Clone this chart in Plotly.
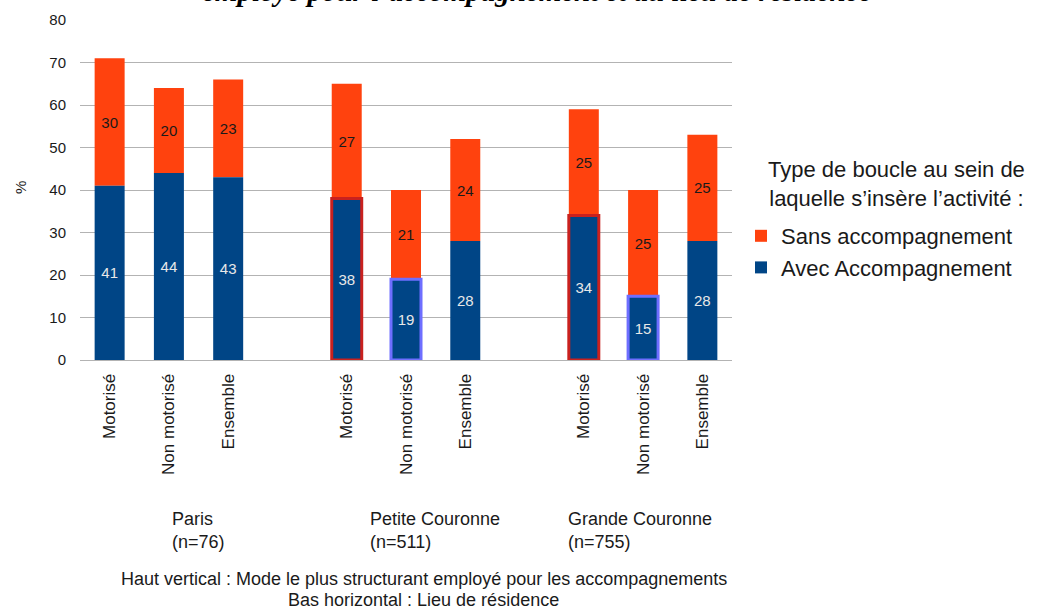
import plotly.graph_objects as go

# ---- data ----
groups = ["Paris", "Petite Couronne", "Grande Couronne"]
group_n = [76, 511, 755]
modes = ["Motorisé", "Non motorisé", "Ensemble"]
avec = [41, 44, 43, 38, 19, 28, 34, 15, 28]   # Avec Accompagnement
sans = [30, 20, 23, 27, 21, 24, 25, 25, 25]   # Sans accompagnement
highlight = [None, None, None, "motor", "nonmotor", None, "motor", "nonmotor", None]

# ---- style ----
BLUE = "#004586"
ORANGE = "#ff420e"
RED = "#c9211e"
PURPLE = "#6e6eff"
FONT = "Liberation Sans"
TXT = "#1a1a1a"

xpos = [g * 4 + m for g in range(len(groups)) for m in range(len(modes))]
ticktext = modes * len(groups)
line_colors = [RED if h == "motor" else PURPLE if h == "nonmotor" else BLUE for h in highlight]
line_widths = [3 if h else 0 for h in highlight]

fig = go.Figure()
fig.add_trace(go.Bar(
    x=xpos, y=sans, base=avec, name="Sans accompagnement",
    marker=dict(color=ORANGE, line=dict(width=0)),
    text=[str(v) for v in sans], textposition="inside", insidetextanchor="middle",
    textangle=0, constraintext="none",
    textfont=dict(family=FONT, size=15, color=TXT),
    width=0.506,
))
fig.add_trace(go.Bar(
    x=xpos, y=avec, name="Avec Accompagnement",
    marker=dict(color=BLUE, line=dict(color=line_colors, width=line_widths)),
    text=[str(v) for v in avec], textposition="inside", insidetextanchor="middle",
    textangle=0, constraintext="none",
    textfont=dict(family=FONT, size=15, color="#e8e8e8"),
    width=0.506,
))

def px_x(p):
    return (p - 80) / 652

def px_y(p):
    return (360 - p) / 340

annotations = []
# cut-off title at the very top
annotations.append(dict(
    text="<b><i>employé pour l’accompagnement et au lieu de résidence</i></b>",
    xref="paper", yref="paper", x=px_x(536), y=px_y(9), xanchor="center", yanchor="bottom",
    showarrow=False, font=dict(family="Liberation Serif", size=29, color="#000000"),
))
# y axis title
annotations.append(dict(
    text="%", xref="paper", yref="paper", x=px_x(20), y=px_y(188),
    xanchor="center", yanchor="middle", textangle=-90, showarrow=False,
    font=dict(family=FONT, size=15, color=TXT),
))
# group labels
for g, n, left in zip(groups, group_n, [170, 368, 566]):
    annotations.append(dict(
        text=f"{g}<br>(n={n})", xref="paper", yref="paper",
        x=px_x(left), y=px_y(507), xanchor="left", yanchor="top", align="left",
        showarrow=False, font=dict(family=FONT, size=18, color=TXT),
    ))
# bottom explanation
for line, ypx in [("Haut vertical : Mode le plus structurant employé pour les accompagnements", 579),
                  ("Bas horizontal : Lieu de résidence", 600)]:
    annotations.append(dict(
        text=line, xref="paper", yref="paper", x=px_x(424), y=px_y(ypx),
        xanchor="center", yanchor="middle", showarrow=False,
        font=dict(family=FONT, size=18, color=TXT),
    ))
# legend title
annotations.append(dict(
    text="Type de boucle au sein de<br>laquelle s’insère l’activité :",
    xref="paper", yref="paper", x=px_x(896), y=px_y(184), xanchor="center", yanchor="middle",
    align="center", showarrow=False, font=dict(family=FONT, size=22, color=TXT),
))

fig.update_layout(
    width=1045, height=609,
    margin=dict(l=80, r=313, t=20, b=249),
    barmode="overlay",
    plot_bgcolor="white", paper_bgcolor="white",
    font=dict(family=FONT, color=TXT),
    showlegend=True,
    legend=dict(
        x=px_x(741), y=px_y(215), xanchor="left", yanchor="top",
        font=dict(family=FONT, size=22, color=TXT),
        traceorder="normal", bgcolor="rgba(0,0,0,0)",
    ),
    annotations=annotations,
    xaxis=dict(
        range=[-0.5, 10.5], tickmode="array", tickvals=xpos, ticktext=ticktext,
        tickangle=-90, ticks="outside", ticklen=6, tickcolor="rgba(0,0,0,0)",
        showgrid=False, zeroline=False, showline=False,
        tickfont=dict(family=FONT, size=17, color=TXT),
    ),
    yaxis=dict(
        range=[0, 80], dtick=10, tick0=0, showgrid=True, gridcolor="#b3b3b3", gridwidth=1,
        zeroline=True, zerolinecolor="#b3b3b3", zerolinewidth=1, showline=False,
        ticks="outside", ticklen=10, tickcolor="rgba(0,0,0,0)",
        tickfont=dict(family=FONT, size=15, color=TXT),
    ),
)

fig.write_html(
    "out.html",
    config={"displayModeBar": False},
    post_script="document.body.style.margin='0';document.body.style.overflow='hidden';",
)
